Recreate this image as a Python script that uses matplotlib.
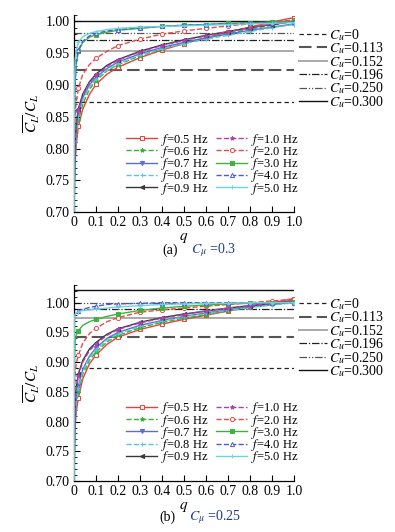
import matplotlib
matplotlib.use('Agg')
import matplotlib.pyplot as plt
from matplotlib.ticker import MultipleLocator
from matplotlib.lines import Line2D

plt.rcParams['font.family'] = ['Liberation Serif', 'DejaVu Serif']
plt.rcParams['mathtext.fontset'] = 'stix'

# sample points of the fitted curves (q)
q = [0.0003, 0.002, 0.005, 0.01, 0.02, 0.04, 0.07, 0.1, 0.15, 0.2,
     0.3, 0.4, 0.5, 0.6, 0.7, 0.8, 0.9, 1.0]
mark_idx = [4, 7, 9, 10, 11, 12, 13, 14, 15, 16, 17]

freqs = ['0.5', '0.6', '0.7', '0.8', '0.9', '1.0', '2.0', '3.0', '4.0', '5.0']

# (a) C_mu = 0.3
a_05 = [0.69, 0.73, 0.775, 0.805, 0.835, 0.862, 0.885, 0.901, 0.917, 0.928, 0.943, 0.955, 0.965, 0.974, 0.983, 0.991, 0.999, 1.006]
a_06 = [0.69, 0.74, 0.785, 0.815, 0.845, 0.870, 0.893, 0.907, 0.922, 0.932, 0.946, 0.957, 0.966, 0.974, 0.981, 0.988, 0.994, 1.000]
a_07 = [0.69, 0.76, 0.800, 0.830, 0.856, 0.880, 0.900, 0.912, 0.926, 0.936, 0.949, 0.959, 0.967, 0.974, 0.980, 0.986, 0.991, 0.996]
a_08 = [0.69, 0.75, 0.795, 0.825, 0.852, 0.877, 0.897, 0.909, 0.923, 0.933, 0.947, 0.957, 0.965, 0.972, 0.978, 0.984, 0.990, 0.995]
a_09 = [0.69, 0.77, 0.810, 0.838, 0.863, 0.886, 0.905, 0.917, 0.931, 0.940, 0.953, 0.963, 0.971, 0.978, 0.984, 0.990, 0.995, 1.000]
a_10 = [0.69, 0.765, 0.805, 0.835, 0.860, 0.884, 0.903, 0.915, 0.929, 0.939, 0.952, 0.962, 0.970, 0.977, 0.984, 0.990, 0.996, 1.002]
a_20 = [0.69, 0.83, 0.855, 0.873, 0.895, 0.917, 0.932, 0.942, 0.953, 0.962, 0.972, 0.980, 0.985, 0.989, 0.993, 0.996, 0.999, 1.002]
a_30 = [0.69, 0.84, 0.900, 0.932, 0.953, 0.967, 0.975, 0.979, 0.983, 0.986, 0.989, 0.992, 0.994, 0.995, 0.997, 0.998, 0.999, 1.000]
a_40 = [0.69, 0.85, 0.905, 0.935, 0.955, 0.969, 0.977, 0.981, 0.985, 0.987, 0.990, 0.992, 0.994, 0.995, 0.996, 0.997, 0.998, 0.999]
a_50 = [0.69, 0.90, 0.940, 0.955, 0.967, 0.976, 0.981, 0.984, 0.987, 0.989, 0.991, 0.992, 0.993, 0.994, 0.995, 0.996, 0.997, 0.998]

# (b) C_mu = 0.25
b_05 = [0.69, 0.74, 0.790, 0.815, 0.840, 0.872, 0.897, 0.912, 0.930, 0.942, 0.955, 0.964, 0.972, 0.979, 0.986, 0.993, 1.000, 1.007]
b_06 = [0.69, 0.75, 0.800, 0.825, 0.850, 0.880, 0.903, 0.917, 0.934, 0.945, 0.958, 0.967, 0.974, 0.980, 0.986, 0.992, 0.997, 1.002]
b_07 = [0.69, 0.76, 0.810, 0.835, 0.860, 0.888, 0.910, 0.924, 0.940, 0.950, 0.962, 0.970, 0.977, 0.983, 0.988, 0.993, 0.997, 1.001]
b_08 = [0.69, 0.755, 0.805, 0.832, 0.857, 0.885, 0.907, 0.921, 0.937, 0.948, 0.960, 0.969, 0.976, 0.982, 0.987, 0.992, 0.996, 1.000]
b_09 = [0.69, 0.78, 0.830, 0.857, 0.880, 0.903, 0.922, 0.933, 0.947, 0.956, 0.967, 0.975, 0.981, 0.986, 0.991, 0.995, 0.999, 1.003]
b_10 = [0.69, 0.775, 0.825, 0.853, 0.877, 0.900, 0.919, 0.931, 0.945, 0.955, 0.966, 0.974, 0.980, 0.986, 0.991, 0.995, 0.999, 1.004]
b_20 = [0.69, 0.85, 0.880, 0.897, 0.912, 0.932, 0.948, 0.957, 0.968, 0.975, 0.984, 0.988, 0.991, 0.994, 0.997, 1.000, 1.003, 1.006]
b_30 = [0.69, 0.90, 0.935, 0.945, 0.953, 0.962, 0.968, 0.972, 0.977, 0.981, 0.987, 0.991, 0.994, 0.996, 0.998, 0.999, 1.000, 1.001]
b_40 = [0.69, 0.975, 0.980, 0.983, 0.986, 0.989, 0.992, 0.994, 0.997, 0.998, 0.999, 1.000, 1.000, 1.000, 1.000, 1.000, 1.000, 1.000]
b_50 = [0.69, 0.975, 0.981, 0.983, 0.985, 0.987, 0.988, 0.989, 0.991, 0.993, 0.995, 0.997, 0.998, 0.999, 0.999, 1.000, 1.000, 1.000]

# reference levels for each C_u
cu_labels = ['0', '0.113', '0.152', '0.196', '0.250', '0.300']
a_cu = [0.873, 0.923, 0.954, 0.970, 0.981, 1.000]
b_cu = [0.890, 0.943, 0.974, 0.989, 1.000, 1.022]

# styles: color, linestyle, marker, marker face
f_styles = [
    ('#e8413a', '-',  's', 'white'),
    ('#2db82d', '--', '*', None),
    ('#5b6ed0', '-',  'v', None),
    ('#55c8d8', '--', '+', None),
    ('#383838', '-',  '<', None),
    ('#b040b0', '--', '*', None),
    ('#e84a4a', '--', 'o', 'white'),
    ('#3cb43c', '-',  's', None),
    ('#4c5ad8', '--', '^', 'white'),
    ('#6cd2e0', '-',  '+', None),
]
cu_styles = [
    dict(color='#222222', lw=0.9, dashes=(3.5, 2.5)),
    dict(color='#555555', lw=1.5, dashes=(6, 2.5)),
    dict(color='#aaaaaa', lw=1.4, linestyle='-'),
    dict(color='#222222', lw=0.9, dashes=(6, 1.5, 1, 1.5)),
    dict(color='#555555', lw=0.9, dashes=(6, 1.5, 1, 1.5, 1, 1.5)),
    dict(color='#111111', lw=1.0, linestyle='-'),
]

fig = plt.figure(figsize=(3.95, 5.32), dpi=100)


def draw_panel(ax, curves, levels, ytop, legend_y):
    for lev, st in zip(levels, cu_styles):
        ax.axhline(lev, zorder=1, **st)
    for vals, fr, (c, ls, m, mfc) in zip(curves, freqs, f_styles):
        ax.plot(q, vals, color=c, linestyle=ls, lw=1.0, marker=m,
                markevery=mark_idx, ms=3.0, mfc=mfc if mfc else c,
                mec=c, mew=0.7, label='$f$=%s Hz' % fr, zorder=3)
    ax.set_xlim(0, 1.0)
    ax.set_ylim(0.70, ytop)
    ax.yaxis.set_minor_locator(MultipleLocator(0.01))
    ax.set_yticks([0.70 + 0.05 * i for i in range(7)])
    ax.set_yticklabels(['%.2f' % (0.70 + 0.05 * i) for i in range(7)])
    ax.set_xticks([i / 10 for i in range(11)])
    ax.set_xticklabels(['0'] + ['%.1f' % (i / 10) for i in range(1, 11)])
    ax.tick_params(direction='in', which='major', length=4, width=0.8,
                   labelsize=10, pad=3)
    ax.tick_params(direction='in', which='minor', length=2.2, width=0.6)
    for s in ['top', 'right']:
        ax.spines[s].set_visible(False)
    for s in ['left', 'bottom']:
        ax.spines[s].set_linewidth(0.9)
    ax.set_xlabel('$q$', fontsize=11, labelpad=1)
    ax.set_ylabel(r'$\overline{C_L}/C_L$', fontsize=11, labelpad=3)
    ax.legend(loc='lower right', bbox_to_anchor=(1.02, 0.08), ncol=2,
              frameon=False, fontsize=9, handlelength=2.5, handletextpad=0.3,
              labelspacing=-0.3, columnspacing=0.6, borderaxespad=0,
              borderpad=0)
    handles = [Line2D([], [], **st) for st in cu_styles]
    fig.legend(handles, ['$C_u$=%s' % c for c in cu_labels],
               loc='center left', bbox_to_anchor=(0.758, legend_y),
               frameon=False, fontsize=10, handlelength=2.0,
               handletextpad=0.1, labelspacing=-0.17, borderpad=0,
               borderaxespad=0)


ax1 = fig.add_axes([0.1873, 0.6009, 0.5570, 0.3709])
draw_panel(ax1, [a_05, a_06, a_07, a_08, a_09, a_10, a_20, a_30, a_40, a_50],
           a_cu, 1.01, 1 - 68.4 / 532)
ax2 = fig.add_axes([0.1873, 0.0959, 0.5570, 0.3686])
draw_panel(ax2, [b_05, b_06, b_07, b_08, b_09, b_10, b_20, b_30, b_40, b_50],
           b_cu, 1.03, 1 - 337.5 / 532)

fig.text(0.430, 1 - 250 / 532, '(a)', ha='center', va='center', fontsize=10)
fig.text(0.540, 1 - 250 / 532, r'$C_\mu$ =0.3', ha='center', va='center',
         fontsize=10, color='#1f3a8a')
fig.text(0.425, 1 - 517 / 532, '(b)', ha='center', va='center', fontsize=10)
fig.text(0.545, 1 - 517 / 532, r'$C_\mu$ =0.25', ha='center', va='center',
         fontsize=10, color='#1f3a8a')

fig.savefig('out.png', dpi=100, facecolor='white')
